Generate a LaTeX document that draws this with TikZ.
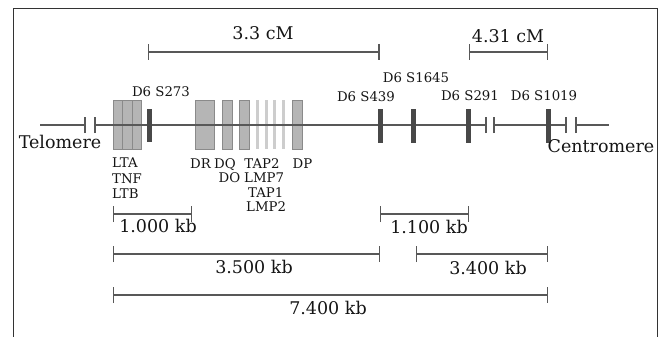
\documentclass[tikz,border=0pt]{standalone}
\usepackage{fontspec}
\setmainfont{DejaVu Serif}
\usetikzlibrary{arrows.meta}
\definecolor{linegray}{HTML}{585858}
\definecolor{boxfill}{HTML}{B5B5B5}
\definecolor{boxedge}{HTML}{8A8A8A}
\definecolor{lightbar}{HTML}{CDCDCD}
\definecolor{markgray}{HTML}{484848}
\definecolor{txt}{HTML}{151515}
\definecolor{framegray}{HTML}{333333}
\begin{document}
\begin{tikzpicture}[x=1pt,y=-1pt,
  genebox/.style={draw=boxedge,fill=boxfill,line width=0.9pt,minimum height=49pt,inner sep=0pt,outer sep=0pt},
  lbar/.style={fill=lightbar,minimum width=3pt,minimum height=49pt,inner sep=0pt},
  marker/.style={fill=markgray,minimum width=5pt,minimum height=33pt,inner sep=0pt},
  chrom/.style={draw=linegray,line width=2pt},
  brk/.style={draw=linegray,line width=1.3pt},
  scalebar/.style={draw=linegray,line width=1.3pt,{Bar[width=16pt]}-{Bar[width=16pt]}},
  small/.style={text=txt,inner sep=0pt,font=\fontsize{13.3}{15}\selectfont},
  big/.style={text=txt,inner sep=0pt,font=\fontsize{17.5}{19}\selectfont},
  end/.style={text=txt,inner sep=0pt,font=\fontsize{17.5}{19}\selectfont},
  frame/.style={draw=framegray,line width=1pt}]
\useasboundingbox (0,0) rectangle (662,337);
% frame
\draw[frame] (13,337) -- (13,9) -- (657,9) -- (657,337);
% gene boxes
\node[genebox,minimum width=9.5pt] (lta) at (117.75,124.5) {};
\node[genebox,minimum width=9.5pt] (tnf) at (127.25,124.5) {};
\node[genebox,minimum width=9.5pt] (ltb) at (136.75,124.5) {};
\node[genebox,minimum width=19.5pt] (dr) at (204.75,124.5) {};
\node[genebox,minimum width=10pt] (dq) at (227,124.5) {};
\node[genebox,minimum width=10pt] (do) at (244,124.5) {};
\node[lbar] (lb1) at (257.5,124.5) {};
\node[lbar] (lb2) at (266,124.5) {};
\node[lbar] (lb3) at (274.5,124.5) {};
\node[lbar] (lb4) at (283,124.5) {};
\node[genebox,minimum width=10pt] (dp) at (297.5,124.5) {};
% chromosome line
\coordinate (l0) at (40,125);
\coordinate (b1) at (85,125);
\coordinate (b2) at (95,125);
\coordinate (b3) at (486,125);
\coordinate (b4) at (494,125);
\coordinate (b5) at (566,125);
\coordinate (b6) at (576,125);
\coordinate (r0) at (609,125);
\draw[chrom] (l0) -- (b1);
\draw[chrom] (b2) -- (b3);
\draw[chrom] (b4) -- (b5);
\draw[chrom] (b6) -- (r0);
\foreach \b in {b1,b2,b3,b4,b5,b6}
  \draw[brk] ([yshift=-8pt]\b) -- ([yshift=8pt]\b);
% markers
\node[marker] (m273) at (149.5,125.5) {};
\node[marker] (m439) at (380.5,126) {};
\node[marker] (m1645) at (413,126) {};
\node[marker] (m291) at (468,126) {};
\node[marker] (m1019) at (548,126) {};
% marker labels
\node[small,anchor=base] (t273) at (161,97) {D6 S273};
\node[small,anchor=base] (t439) at (366,101.5) {D6 S439};
\node[small,anchor=base] (t1645) at (416,83) {D6 S1645};
\node[small,anchor=base] (t291) at (470,101) {D6 S291};
\node[small,anchor=base] (t1019) at (544,100) {D6 S1019};
% ends
\node[end,anchor=base] (tel) at (60,148) {Telomere};
\node[end,anchor=base] (cen) at (601,152) {Centromere};
% gene labels
\node[small,anchor=base west] (glta) at (112,167) {LTA};
\node[small,anchor=base west] (gtnf) at (112,183) {TNF};
\node[small,anchor=base west] (gltb) at (112,198) {LTB};
\node[small,anchor=base] (gdr) at (200.5,168) {DR};
\node[small,anchor=base] (gdq) at (225,168) {DQ};
\node[small,anchor=base] (gtap2) at (262,168) {TAP2};
\node[small,anchor=base] (gdp) at (302.5,168) {DP};
\node[small,anchor=base] (gdo) at (229.5,182.5) {DO};
\node[small,anchor=base west] (glmp7) at (244,182.5) {LMP7};
\node[small,anchor=base west] (gtap1) at (248,197) {TAP1};
\node[small,anchor=base west] (glmp2) at (246,211.5) {LMP2};
% cM scale bars
\coordinate (c1a) at (148,52);
\coordinate (c1b) at (379.5,52);
\coordinate (c2a) at (469,52);
\coordinate (c2b) at (548,52);
\draw[scalebar] (c1a) -- (c1b);
\draw[scalebar] (c2a) -- (c2b);
\node[big,anchor=base] (cm1) at (263,40) {3.3 cM};
\node[big,anchor=base] (cm2) at (508,43) {4.31 cM};
% kb scale bars
\coordinate (k1a) at (113,214);
\coordinate (k1b) at (192,214);
\coordinate (k2a) at (380,214);
\coordinate (k2b) at (469,214);
\coordinate (k3a) at (113,254);
\coordinate (k3b) at (380,254);
\coordinate (k4a) at (416,254);
\coordinate (k4b) at (548,254);
\coordinate (k5a) at (113,295);
\coordinate (k5b) at (548,295);
\draw[scalebar] (k1a) -- (k1b);
\draw[scalebar] (k2a) -- (k2b);
\draw[scalebar] (k3a) -- (k3b);
\draw[scalebar] (k4a) -- (k4b);
\draw[scalebar] (k5a) -- (k5b);
\node[big,anchor=base] (kb1) at (158,232) {1.000 kb};
\node[big,anchor=base] (kb2) at (429,233) {1.100 kb};
\node[big,anchor=base] (kb3) at (254,273) {3.500 kb};
\node[big,anchor=base] (kb4) at (488,274) {3.400 kb};
\node[big,anchor=base] (kb5) at (328,314) {7.400 kb};
\end{tikzpicture}
\end{document}
